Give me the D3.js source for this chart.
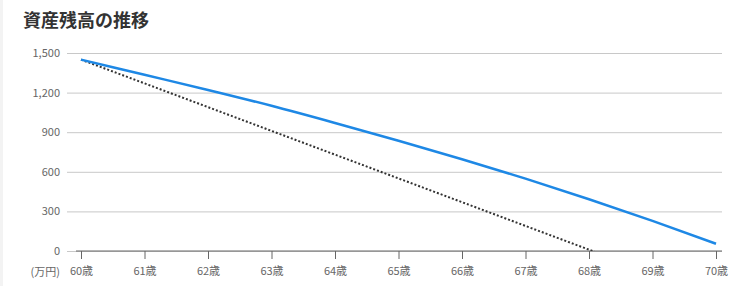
<!DOCTYPE html>
<html>
<head>
<meta charset="utf-8">
<script src="https://cdn.jsdelivr.net/npm/d3@7"></script>
<style>
  body { margin: 0; background: #fff; }
  svg { display: block; font-family: "Noto Sans CJK JP", "Noto Sans", sans-serif; }
</style>
</head>
<body>
<svg id="chart" width="734" height="286"></svg>
<script>
const ages = [60, 61, 62, 63, 64, 65, 66, 67, 68, 69, 70];
// 資産残高 (万円)
const balance = [1450, 1335, 1220, 1100, 970, 835, 695, 548, 392, 228, 55];
// 比較 (点線)
const compare = [1450, 1270, 1090, 910, 730, 550, 370, 190, 10, -170, -350];
const yTicks = [0, 300, 600, 900, 1200, 1500];

const svg = d3.select("#chart"),
    width = +svg.attr("width"),
    height = +svg.attr("height");

// left edge of page background
svg.append("rect").attr("x", 0).attr("y", 0).attr("width", 3).attr("height", height).attr("fill", "#f3f3f3");

const x = d3.scaleLinear().domain([60, 70]).range([81, 716]);
const y = d3.scaleLinear().domain([0, 1500]).range([251, 53]);

svg.append("text")
    .attr("x", 23).attr("y", 27)
    .attr("font-size", 18).attr("font-weight", "bold")
    .attr("fill", "#333")
    .text("資産残高の推移");

// grid lines + y labels
let grid = svg.append("g")
    .attr("transform", "translate(67,0)")
    .call(d3.axisLeft(y).tickValues(yTicks).tickSize(-655).tickFormat(d3.format(",")).tickPadding(7));
grid.select(".domain").remove();
grid.selectAll(".tick line").attr("stroke", "#c8c8c8");
grid.selectAll(".tick text").attr("fill", "#666").attr("font-size", 11)
    .attr("font-family", "\"Noto Sans CJK JP\", sans-serif");

// x axis
let xAxis = svg.append("g")
    .attr("transform", "translate(0,251)")
    .call(d3.axisBottom(x).tickValues(ages).tickSize(8).tickSizeOuter(0).tickFormat(d => d + "歳").tickPadding(8));
xAxis.select(".domain").attr("d", "M76,0H722").attr("stroke", "#666");
xAxis.selectAll(".tick line").attr("stroke", "#666");
xAxis.selectAll(".tick text").attr("fill", "#666").attr("font-size", 11)
    .attr("font-family", "\"Noto Sans CJK JP\", sans-serif");

svg.append("text")
    .attr("x", 60).attr("y", 276)
    .attr("text-anchor", "end")
    .attr("font-size", 11).attr("fill", "#666")
    .text("(万円)");

svg.append("clipPath").attr("id", "plot")
    .append("rect").attr("x", 67).attr("y", 40).attr("width", 655).attr("height", 211);

const line = d3.line()
    .x((d, i) => x(ages[i]))
    .y(d => y(d));

svg.append("path")
    .datum(compare)
    .attr("clip-path", "url(#plot)")
    .attr("d", line)
    .attr("fill", "none")
    .attr("stroke", "#333")
    .attr("stroke-width", 2)
    .attr("stroke-dasharray", "2,2");

svg.append("path")
    .datum(balance)
    .attr("d", d3.line().x((d, i) => x(ages[i])).y(d => y(d)).curve(d3.curveMonotoneX))
    .attr("fill", "none")
    .attr("stroke", "#1e88e5")
    .attr("stroke-width", 2.5);
</script>
</body>
</html>
